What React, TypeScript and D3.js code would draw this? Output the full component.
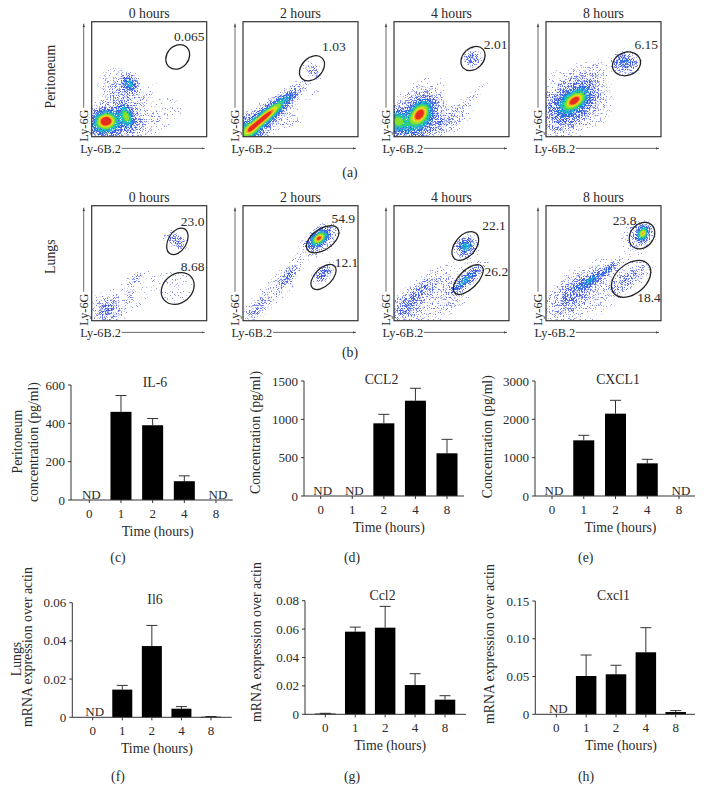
import React from "react";
import * as d3 from "d3";

// ---------- Flow cytometry readings (panel-local fractions, y upwards) ----------
type Blob = [number, number, number, number, number, number]; // cx, cy, rx, ry, angle, density
type Gate = [number, number, number, number, number]; // cx, cy, major, minor, angle
type Lab = [string, number, number];

const hoursLabels = ["0 hours", "2 hours", "4 hours", "8 hours"];

const periBlobs: Blob[][] = [
  [[0.13, 0.14, 0.06, 0.05, 0, 0.9], [0.30, 0.18, 0.03, 0.06, 20, 0.62], [0.08, 0.10, 0.06, 0.06, 0, 0.25], [0.33, 0.46, 0.035, 0.045, 30, 0.36], [0.24, 0.38, 0.085, 0.11, 30, 0.07], [0.22, 0.12, 0.14, 0.08, 0, 0.16], [0.6, 0.2, 0.15, 0.1, 20, 0.018], [0.44, 0.33, 0.1, 0.025, 50, 0.04]],
  [[0.2, 0.18, 0.17, 0.032, 40, 0.95], [0.05, 0.05, 0.06, 0.06, 0, 0.36], [0.12, 0.1, 0.12, 0.065, 40, 0.16], [0.6, 0.583, 0.03, 0.055, 60, 0.08], [0.38, 0.14, 0.09, 0.06, 20, 0.028], [0.6, 0.35, 0.15, 0.02, 45, 0.012]],
  [[0.226, 0.2, 0.075, 0.05, 50, 0.92], [0.03, 0.14, 0.05, 0.05, 0, 0.58], [0.14, 0.09, 0.16, 0.065, 10, 0.22], [0.2, 0.22, 0.12, 0.09, 40, 0.11], [0.687, 0.68, 0.04, 0.035, 0, 0.18], [0.57, 0.26, 0.2, 0.025, 40, 0.03], [0.45, 0.14, 0.16, 0.07, 25, 0.03], [0.3, 0.4, 0.16, 0.09, 30, 0.012]],
  [[0.25, 0.315, 0.075, 0.04, 35, 0.8], [0.22, 0.29, 0.14, 0.09, 40, 0.25], [0.2, 0.3, 0.19, 0.15, 40, 0.05], [0.69, 0.644, 0.055, 0.045, 0, 0.28], [0.38, 0.52, 0.1, 0.05, 45, 0.03], [0.45, 0.25, 0.12, 0.1, 0, 0.01]],
];
const periGates: Gate[][] = [
  [[0.748, 0.694, 0.115, 0.095, 50]],
  [[0.6, 0.595, 0.125, 0.09, 45]],
  [[0.687, 0.68, 0.118, 0.09, 45]],
  [[0.70, 0.633, 0.125, 0.1, 20]],
];
const periLabels: Lab[][] = [
  [["0.065", 0.848, 0.869]],
  [["1.03", 0.79, 0.787]],
  [["2.01", 0.884, 0.80]],
  [["6.15", 0.872, 0.80]],
];

const lungBlobs: Blob[][] = [
  [[0.733, 0.697, 0.03, 0.055, 60, 0.16], [0.75, 0.285, 0.1, 0.1, 0, 0.02], [0.13, 0.10, 0.07, 0.06, 0, 0.11], [0.39, 0.37, 0.05, 0.022, 40, 0.06], [0.3, 0.2, 0.22, 0.09, 35, 0.022]],
  [[0.66, 0.717, 0.05, 0.03, 40, 0.92], [0.68, 0.71, 0.1, 0.05, 35, 0.1], [0.695, 0.408, 0.055, 0.028, 40, 0.17], [0.39, 0.387, 0.06, 0.024, 50, 0.18], [0.116, 0.10, 0.07, 0.03, 50, 0.07], [0.26, 0.25, 0.3, 0.06, 45, 0.03]],
  [[0.626, 0.645, 0.045, 0.04, 50, 0.42], [0.617, 0.35, 0.09, 0.024, 40, 0.38], [0.197, 0.227, 0.15, 0.045, 40, 0.11], [0.09, 0.08, 0.07, 0.07, 40, 0.06], [0.31, 0.2, 0.32, 0.09, 40, 0.025], [0.45, 0.14, 0.14, 0.06, 30, 0.03]],
  [[0.843, 0.76, 0.038, 0.028, 60, 0.82], [0.81, 0.74, 0.075, 0.065, 40, 0.08], [0.713, 0.358, 0.12, 0.04, 30, 0.09], [0.394, 0.358, 0.1, 0.026, 30, 0.28], [0.553, 0.46, 0.05, 0.016, 40, 0.2], [0.235, 0.24, 0.13, 0.065, 40, 0.1], [0.3, 0.2, 0.3, 0.13, 35, 0.036]],
];
const lungGates: Gate[][] = [
  [[0.745, 0.69, 0.125, 0.08, 60], [0.748, 0.28, 0.155, 0.125, 40]],
  [[0.693, 0.708, 0.16, 0.09, 35], [0.70, 0.38, 0.135, 0.075, 45]],
  [[0.62, 0.65, 0.145, 0.09, 50], [0.646, 0.358, 0.165, 0.08, 45]],
  [[0.835, 0.74, 0.125, 0.1, 50], [0.74, 0.364, 0.195, 0.13, 40]],
];
const lungLabels: Lab[][] = [
  [["23.0", 0.878, 0.866], ["8.68", 0.878, 0.47]],
  [["54.9", 0.872, 0.889], ["12.1", 0.90, 0.504]],
  [["22.1", 0.87, 0.83], ["26.2", 0.89, 0.43]],
  [["23.8", 0.684, 0.875], ["18.4", 0.896, 0.204]],
];

const densityLevels = [0.008, 0.02, 0.045, 0.09, 0.18, 0.3, 0.46, 0.6, 0.74, 0.86, 0.94];
const densityColors = ["#8c96ec", "#7480e8", "#5a6ce4", "#3f5ce2", "#2a70dc", "#20b4d4", "#30d080", "#84e030", "#e0e020", "#ff9020", "#e62c1c"];
const densitySpeckle = ["sp1", "sp2", "sp3", "sp4", "sp5", "sp6", "sp7", "", "", "", ""];

// ---------- Bar chart readings ----------
const timeCats = ["0", "1", "2", "4", "8"];

const il6Vals = [null, 460, 390, 98, null];
const il6Err = [null, 545, 425, 126, null];
const ccl2Vals = [null, null, 948, 1243, 557];
const ccl2Err = [null, null, 1065, 1405, 739];
const cxcl1Vals = [null, 1452, 2148, 852, null];
const cxcl1Err = [null, 1583, 2496, 957, null];
const il6mVals = [null, 0.0145, 0.0373, 0.0045, 0.0003];
const il6mErr = [null, 0.0167, 0.0481, 0.0056, 0.0004];
const ccl2mVals = [0.0005, 0.0582, 0.061, 0.0206, 0.0103];
const ccl2mErr = [0.0007, 0.0614, 0.076, 0.0286, 0.0131];
const cxcl1mVals = [null, 0.0507, 0.053, 0.0821, 0.003];
const cxcl1mErr = [null, 0.0785, 0.0649, 0.1147, 0.0049];

const il6Ticks = [0, 200, 400, 600];
const ccl2Ticks = [0, 500, 1000, 1500];
const cxcl1Ticks = [0, 1000, 2000, 3000];
const il6mTicks = [0, 0.02, 0.04, 0.06];
const ccl2mTicks = [0, 0.02, 0.04, 0.06, 0.08];
const cxcl1mTicks = [0, 0.05, 0.10, 0.15];

const FONT = "'Liberation Serif', serif";
const INK = "#2a2a2a";
const LABEL = 13.8;

function FlowPanel({ left, top, size, title, blobs, gates, labels, id }: any) {
  const n = Math.round(size);
  const sx = d3.scaleLinear().domain([0, 1]).range([0, size]);
  const sy = d3.scaleLinear().domain([0, 1]).range([size, 0]);
  const field = new Float64Array(n * n);
  for (let j = 0; j < n; j++) {
    for (let i = 0; i < n; i++) {
      const x = sx.invert(i + 0.5);
      const y = sy.invert(j + 0.5);
      let s = 0;
      for (const [cx, cy, rx, ry, ang, amp] of blobs as Blob[]) {
        const a = (ang * Math.PI) / 180;
        const dx = x - cx, dy = y - cy;
        const u = dx * Math.cos(a) + dy * Math.sin(a);
        const v = -dx * Math.sin(a) + dy * Math.cos(a);
        s += amp * Math.exp(-0.5 * ((u / rx) ** 2 + (v / ry) ** 2));
      }
      field[j * n + i] = s;
    }
  }
  const contours = d3.contours().size([n, n]).thresholds(densityLevels)(field as any);
  const path = d3.geoPath();
  const scale = size / n;
  return (
    <g transform={`translate(${left},${top})`}>
      <clipPath id={`clip-${id}`}><rect width={size} height={size} /></clipPath>
      <g clipPath={`url(#clip-${id})`}>
        <g filter="url(#soft)">
          <g transform={`scale(${scale})`}>
            {contours.map((c: any, k: number) => (
              <path key={k} d={path(c) || ""} fill={densityColors[k]}
                filter={densitySpeckle[k] ? `url(#${densitySpeckle[k]})` : undefined} />
            ))}
          </g>
        </g>
      </g>
      {(gates as Gate[]).map(([cx, cy, ma, mi, ang], k) => (
        <ellipse key={k} cx={sx(cx)} cy={sy(cy)} rx={ma * size} ry={mi * size}
          transform={`rotate(${-ang} ${sx(cx)} ${sy(cy)})`}
          fill="none" stroke="#222" strokeWidth={1.25} />
      ))}
      <rect width={size} height={size} fill="none" stroke="#333" strokeWidth={1.2} />
      {(labels as Lab[]).map(([t, x, y], k) => (
        <text key={k} x={sx(x)} y={sy(y)} dy="0.35em" textAnchor="middle" fontSize={13.5} fill={INK}>{t}</text>
      ))}
      <text x={size / 2} y={-8.5} dy="0.35em" textAnchor="middle" fontSize={LABEL} fill={INK}>{title}</text>
      <line x1={-8} x2={-8} y1={86} y2={2} stroke="#444" strokeWidth={0.8} markerEnd="url(#arrow)" />
      <text transform={`translate(-8,${size + 5}) rotate(-90)`} x={0} y={0} dy="0.35em" textAnchor="start" fontSize={12.3} fill={INK}>Ly-6G</text>
      <text x={-11.5} y={size + 11.7} dy="0.35em" textAnchor="start" fontSize={12.3} fill={INK}>Ly-6B.2</text>
      <line x1={30} x2={size - 2} y1={size + 11.7} y2={size + 11.7} stroke="#444" strokeWidth={0.8} markerEnd="url(#arrow)" />
    </g>
  );
}

function BarPanel({ x0, x1, first, last, y0, yTop, ticks, vals, errs, fmt, title, titleX, titleY, barW, nd }: any) {
  const x = d3.scalePoint<string>().domain(timeCats).range([first, last]);
  const top = ticks[ticks.length - 1];
  const y = d3.scaleLinear().domain([0, top]).range([y0, yTop]);
  return (
    <g fontSize={13} fill={INK}>
      {timeCats.map((c, i) => {
        const v = vals[i];
        if (v == null) return null;
        const cx = x(c)!;
        return (
          <g key={c}>
            <line x1={cx} x2={cx} y1={y(errs[i])} y2={y(v)} stroke="#333" strokeWidth={1} />
            <line x1={cx - 5.5} x2={cx + 5.5} y1={y(errs[i])} y2={y(errs[i])} stroke="#333" strokeWidth={1} />
            <rect x={cx - barW / 2} y={y(v)} width={barW} height={y0 - y(v)} fill="#000" />
          </g>
        );
      })}
      <line x1={x0} x2={x0} y1={yTop} y2={y0} stroke="#333" strokeWidth={1} />
      <line x1={x0} x2={x1} y1={y0} y2={y0} stroke="#333" strokeWidth={1} />
      {ticks.map((t: number) => (
        <g key={t}>
          <line x1={x0 - 3} x2={x0} y1={y(t)} y2={y(t)} stroke="#333" strokeWidth={1} />
          <text x={x0 - 6} y={y(t)} dy="0.35em" textAnchor="end" stroke="none">{fmt(t)}</text>
        </g>
      ))}
      {timeCats.map((c) => (
        <g key={c}>
          <line x1={x(c)} x2={x(c)} y1={y0} y2={y0 + 3} stroke="#333" strokeWidth={1} />
          <text x={x(c)} y={y0 + 13} dy="0.35em" textAnchor="middle">{c}</text>
        </g>
      ))}
      {(nd as string[]).map((c) => (
        <text key={c} x={x(c)! + 2} y={y0 - 6} dy="0.35em" textAnchor="middle">ND</text>
      ))}
      <text x={titleX} y={titleY} dy="0.35em" textAnchor="middle" fontSize={LABEL}>{title}</text>
      <text x={(first + last) / 2 + 5} y={y0 + 31} dy="0.35em" textAnchor="middle" fontSize={LABEL}>Time (hours)</text>
    </g>
  );
}

const VText = ({ x, y, anchor = "middle", children }: any) => (
  <text transform={`translate(${x},${y}) rotate(-90)`} dy="0.35em" textAnchor={anchor} fontSize={LABEL} fill={INK}>{children}</text>
);
const Tag = ({ x, y, children }: any) => (
  <text x={x} y={y} dy="0.35em" textAnchor="middle" fontSize={LABEL} fill={INK}>{children}</text>
);

const speckles: [string, number, number][] = [["sp1", 1, 0.64], ["sp2", 5, 0.6], ["sp3", 9, 0.56], ["sp4", 13, 0.52], ["sp5", 17, 0.47], ["sp6", 21, 0.42], ["sp7", 25, 0.38]];
const fmtPlain = (t: number) => String(t);
const fmt2 = (t: number) => (t === 0 ? "0" : t.toFixed(2));

export default function App() {
  const panelX = [91.7, 243, 394, 546];
  const size = 115;
  return (
    <svg width={704} height={803} viewBox="0 0 704 803" style={{ position: "absolute", left: 0, top: 0, background: "#fff" }} fontFamily={FONT}>
      <defs>
        <marker id="arrow" markerWidth={5} markerHeight={5} refX={4} refY={2} orient="auto">
          <path d="M0,0.6 L4,2 L0,3.4 Z" fill="#444" />
        </marker>
        <filter id="soft" filterUnits="userSpaceOnUse" x={0} y={0} width={120} height={120} colorInterpolationFilters="sRGB">
          <feGaussianBlur stdDeviation={0.35} />
        </filter>
        {speckles.map(([id, seed, thr]) => (
          <filter key={id} id={id} filterUnits="userSpaceOnUse" x={0} y={0} width={120} height={120} colorInterpolationFilters="sRGB">
            <feTurbulence type="fractalNoise" baseFrequency={1.37} numOctaves={1} seed={seed} result="n" />
            <feColorMatrix in="n" type="matrix" values={`0 0 0 0 0 0 0 0 0 0 0 0 0 0 0 14 0 0 0 ${-14 * thr}`} result="m" />
            <feComposite in="SourceGraphic" in2="m" operator="in" />
          </filter>
        ))}
      </defs>

      <VText x={50} y={76.7}>Peritoneum</VText>
      <VText x={50} y={256.7}>Lungs</VText>

      {panelX.map((px, i) => (
        <FlowPanel key={i} id={`a${i}`} left={px} top={21.7} size={size} title={hoursLabels[i]}
          blobs={periBlobs[i]} gates={periGates[i]} labels={periLabels[i]} />
      ))}
      <Tag x={350} y={172.5}>(a)</Tag>
      {panelX.map((px, i) => (
        <FlowPanel key={i} id={`b${i}`} left={px} top={205.7} size={size} title={hoursLabels[i]}
          blobs={lungBlobs[i]} gates={lungGates[i]} labels={lungLabels[i]} />
      ))}
      <Tag x={350} y={352}>(b)</Tag>

      <VText x={17} y={441.7}>Peritoneum</VText>
      <VText x={33} y={442}>concentration (pg/ml)</VText>
      <BarPanel x0={71} x1={232.7} first={89.3} last={216} y0={500} yTop={385} ticks={il6Ticks} vals={il6Vals} errs={il6Err} fmt={fmtPlain} title="IL-6" titleX={155} titleY={382} barW={21} nd={["0", "8"]} />
      <Tag x={118} y={557}>(c)</Tag>

      <VText x={255} y={432.5}>Concentration (pg/ml)</VText>
      <BarPanel x0={304} x1={464} first={320.7} last={447} y0={496} yTop={381} ticks={ccl2Ticks} vals={ccl2Vals} errs={ccl2Err} fmt={fmtPlain} title="CCL2" titleX={381.5} titleY={379} barW={21} nd={["0", "1"]} />
      <Tag x={352} y={557}>(d)</Tag>

      <VText x={486.7} y={436.7}>Concentration (pg/ml)</VText>
      <BarPanel x0={535} x1={695} first={552} last={679} y0={496} yTop={381} ticks={cxcl1Ticks} vals={cxcl1Vals} errs={cxcl1Err} fmt={fmtPlain} title="CXCL1" titleX={618} titleY={379} barW={21} nd={["0", "8"]} />
      <Tag x={585.7} y={557}>(e)</Tag>

      <VText x={15.7} y={659}>Lungs</VText>
      <VText x={26.7} y={727} anchor="start">mRNA expression over actin</VText>
      <BarPanel x0={72.3} x1={231.7} first={92.7} last={211} y0={717.3} yTop={602.7} ticks={il6mTicks} vals={il6mVals} errs={il6mErr} fmt={fmt2} title="Il6" titleX={155} titleY={599} barW={20} nd={["0"]} />
      <Tag x={118} y={776}>(f)</Tag>

      <VText x={255.7} y={722} anchor="start">mRNA expression over actin</VText>
      <BarPanel x0={305} x1={466} first={325.3} last={445} y0={714.3} yTop={600.7} ticks={ccl2mTicks} vals={ccl2mVals} errs={ccl2mErr} fmt={fmt2} title="Ccl2" titleX={382.5} titleY={595.5} barW={20.5} nd={[]} />
      <Tag x={352} y={776}>(g)</Tag>

      <VText x={489.3} y={724} anchor="start">mRNA expression over actin</VText>
      <BarPanel x0={535.3} x1={695} first={556.3} last={675.7} y0={714.3} yTop={601} ticks={cxcl1mTicks} vals={cxcl1mVals} errs={cxcl1mErr} fmt={fmt2} title="Cxcl1" titleX={613.5} titleY={595.5} barW={20.5} nd={["0"]} />
      <Tag x={586} y={776}>(h)</Tag>
    </svg>
  );
}
